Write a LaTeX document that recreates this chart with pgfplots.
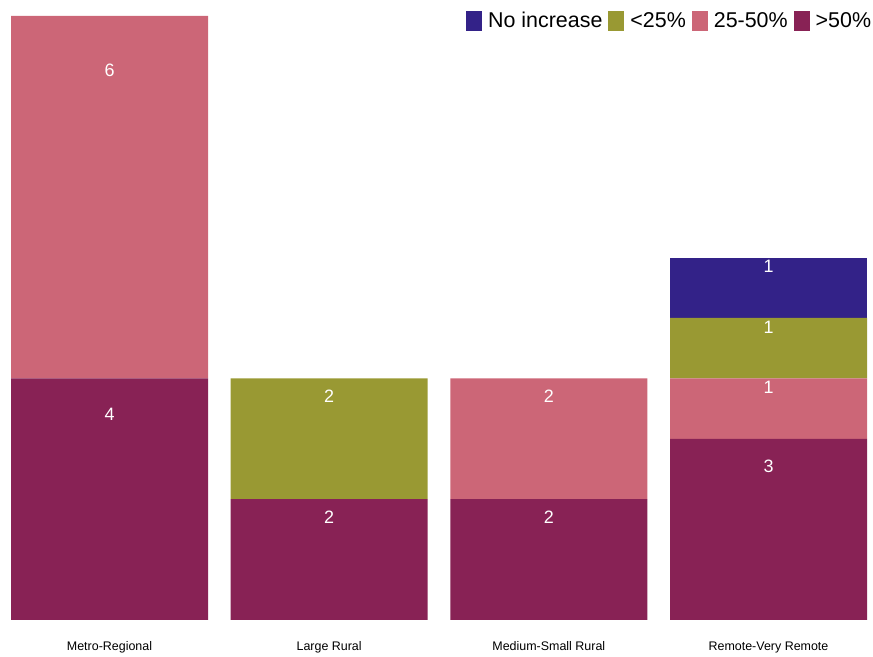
\documentclass[border=0pt]{standalone}
\usepackage{fontspec}
\setmainfont{Liberation Sans}
\usepackage{pgfplots}
\usepackage{pgfplotstable}
\pgfplotsset{compat=1.18}
\definecolor{cNo}{HTML}{332288}
\definecolor{cLow}{HTML}{999933}
\definecolor{cMid}{HTML}{CC6677}
\definecolor{cHigh}{HTML}{882255}

\pgfplotstableread{
x high mid low no
0 4 6 0 0
1 2 0 2 0
2 2 2 0 0
3 3 1 1 1
}\bars

\pgfplotstableread{
x y label
0 3.4 4
0 9.1 6
1 1.7 2
1 3.7 2
2 1.7 2
2 3.7 2
3 2.55 3
3 3.85 1
3 4.85 1
3 5.85 1
}\labels

\begin{document}
\begin{tikzpicture}
\pgfplotsset{
  common/.style={
    scale only axis,
    width=873bp, height=620bp,
    xmin=-0.4985, xmax=3.4757,
    ymin=0, ymax=10.265,
    axis line style={draw=none},
    tick style={draw=none},
    ytick=\empty,
  }
}
\begin{axis}[common,
  at={(0,0)}, anchor=south west,
  ybar stacked,
  bar width=197bp,
  xtick={0,1,2,3},
  xticklabels={Metro-Regional,Large Rural,Medium-Small Rural,Remote-Very Remote},
  xticklabel style={anchor=base, yshift=-30bp, font=\fontsize{12.5}{14}\selectfont},
  reverse legend,
  legend columns=-1,
  legend style={at={(rel axis cs:0.998,0.984)}, anchor=north east, draw=none, fill=none,
    inner sep=0pt, font=\fontsize{21.5}{24}\selectfont,
    nodes={inner xsep=0pt},
    /tikz/every odd column/.append style={column sep=6bp},
    /tikz/every even column/.append style={column sep=6bp}},
  legend image code/.code={\fill[#1] (0bp,-10bp) rectangle (16bp,10bp);},
]
\addplot[fill=cHigh, draw=none] table[x=x, y=high] {\bars};
\addlegendentry{>50\%}
\addplot[fill=cMid, draw=none] table[x=x, y=mid] {\bars};
\addlegendentry{25-50\%}
\addplot[fill=cLow, draw=none] table[x=x, y=low] {\bars};
\addlegendentry{<25\%}
\addplot[fill=cNo, draw=none] table[x=x, y=no] {\bars};
\addlegendentry{No increase}
\end{axis}
\begin{axis}[common,
  at={(0,0)}, anchor=south west,
  xtick=\empty,
]
\addplot[draw=none, mark=none, nodes near coords, point meta=explicit symbolic,
  nodes near coords align=center,
  every node near coord/.append style={anchor=center, text=white, font=\fontsize{18}{20}\selectfont}]
  table[x=x, y=y, meta=label] {\labels};
\end{axis}
\pgfresetboundingbox
\path[use as bounding box] (0,-37bp) rectangle (873bp,620bp);
\end{tikzpicture}
\end{document}
